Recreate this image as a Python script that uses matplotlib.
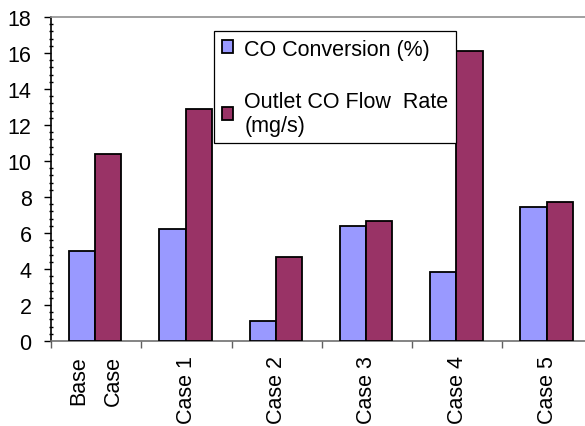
import matplotlib
matplotlib.use("Agg")
import matplotlib.pyplot as plt
import numpy as np
from matplotlib.ticker import MultipleLocator, FixedLocator, NullFormatter

plt.rcParams['font.family'] = ['Liberation Sans', 'DejaVu Sans']

cases = ['Base\nCase', 'Case 1', 'Case 2', 'Case 3', 'Case 4', 'Case 5']
co_conversion = [5.0, 6.2, 1.1, 6.4, 3.85, 7.42]
outlet_flow = [10.4, 12.9, 4.65, 6.65, 16.1, 7.75]

FS = 15.5
fig = plt.figure(figsize=(5.85, 4.27), dpi=100)
ax = fig.add_axes([51 / 585, 85 / 427, 541.7 / 585, 324 / 427])

x = np.arange(len(cases))
w = 0.29
ax.bar(x - 0.155, co_conversion, w, color='#9999FF', edgecolor='black',
       linewidth=1.3, label='CO Conversion (%)', zorder=3)
ax.bar(x + 0.135, outlet_flow, w, color='#993366', edgecolor='black',
       linewidth=1.3, label='Outlet CO Flow  Rate\n(mg/s)', zorder=3)

ax.set_xlim(-0.5, len(cases) - 0.5)
ax.set_ylim(0, 18)

# y axis: majors every 2, minors every 0.4
ax.yaxis.set_major_locator(MultipleLocator(2))
ax.yaxis.set_minor_locator(MultipleLocator(0.4))
ax.tick_params(axis='y', which='major', direction='out', length=5, width=1,
               labelsize=FS, pad=9)
ax.tick_params(axis='y', which='minor', direction='inout', length=3.5, width=1)

# x axis: tick marks between categories, labels centred on categories
ax.xaxis.set_major_locator(FixedLocator(np.arange(-0.5, len(cases), 1)))
ax.xaxis.set_major_formatter(NullFormatter())
ax.xaxis.set_minor_locator(FixedLocator(x))
ax.set_xticklabels(cases, minor=True, rotation=90, fontsize=FS,
                   va='top', ha='center', linespacing=1.8)
ax.tick_params(axis='x', which='major', direction='out', length=5, width=1,
               color='#606060')
ax.tick_params(axis='x', which='minor', length=0, pad=10)

ax.spines['left'].set_color('black')
ax.spines['bottom'].set_color('#707070')
ax.spines['top'].set_color('#909090')
ax.spines['right'].set_visible(False)
for s in ax.spines.values():
    s.set_linewidth(1.2)

leg = ax.legend(loc='upper left', bbox_to_anchor=(214 / 585, 1 - 32 / 427, 231 / 585, 0),
                bbox_transform=fig.transFigure, borderaxespad=0,
                fancybox=False, framealpha=1, edgecolor='black', fontsize=FS,
                handlelength=0.55, handleheight=0.55, handletextpad=0.5,
                labelspacing=1.45, borderpad=0.35)
leg.get_frame().set_linewidth(0.9)

fig.savefig('out.png', dpi=100)
